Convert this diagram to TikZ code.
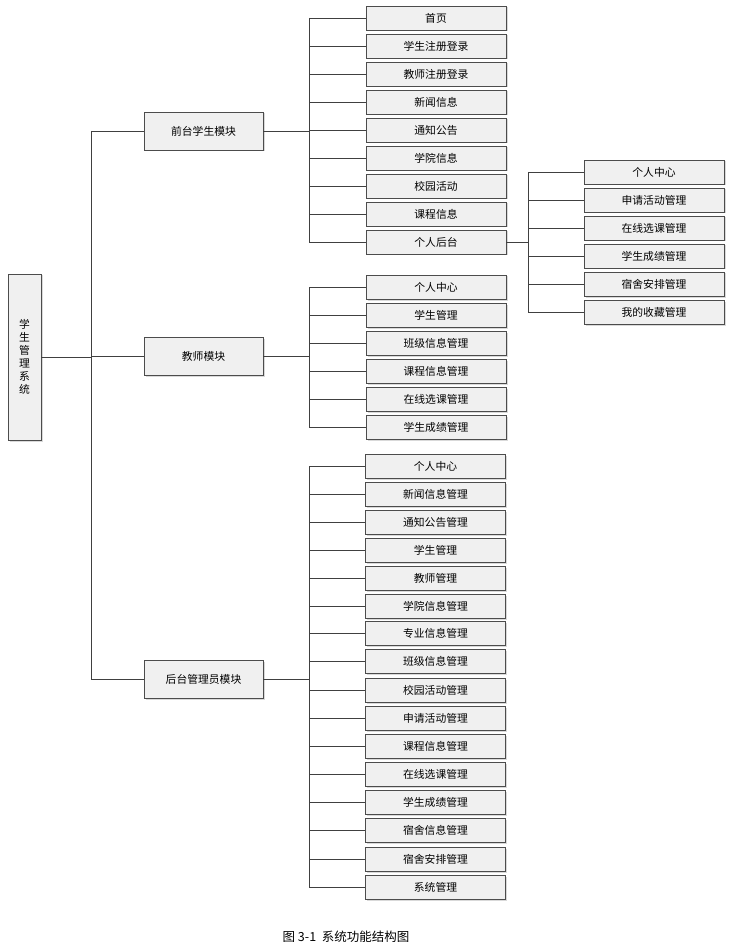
\documentclass[tikz,border=0pt]{standalone}
\usepackage{fontspec}
\setmainfont{Noto Sans CJK SC}
\usetikzlibrary{shadows}
\begin{document}
\begin{tikzpicture}[x=1pt,y=-1pt,
  bx/.style={draw=black!70,fill=black!6,minimum height=24pt,font=\fontsize{10.8}{12}\selectfont,inner sep=0pt,drop shadow={shadow xshift=1.5pt,shadow yshift=-1.5pt,opacity=.3}},
  lv/.style={bx,minimum width=119pt,minimum height=38pt},
  it/.style={bx,minimum width=140pt},
  ln/.style={draw=black!75,line width=0.6pt}]
\useasboundingbox (0,0) rectangle (730,949);
\node[bx,minimum width=33pt,minimum height=166pt,align=center,font=\fontsize{10.8}{13}\selectfont] (root) at (24.5,357) {学\\生\\管\\理\\系\\统};
\node[lv] (f) at (203.5,131) {前台学生模块};
\node[lv] (t) at (203.5,356) {教师模块};
\node[lv] (a) at (203.5,679) {后台管理员模块};
\coordinate (rb) at (91,357);
\draw[ln] (root.east) -- (rb);
\draw[ln] (91,131) -- (91,679);
\foreach \n in {f,t,a} \draw[ln] (91,0 |- \n.west) -- (\n.west);
% front
\foreach \txt [count=\i] in {首页,学生注册登录,教师注册登录,新闻信息,通知公告,学院信息,校园活动,课程信息,个人后台}{
  \node[it] (f\i) at (436,{18+28*(\i-1)}) {\txt};
  \draw[ln] (309,0 |- f\i.west) -- (f\i.west);}
\draw[ln] (309,18) -- (309,242);
\draw[ln] (f.east) -- (309,0 |- f.east);
\foreach \txt [count=\i] in {个人中心,申请活动管理,在线选课管理,学生成绩管理,宿舍安排管理,我的收藏管理}{
  \node[it] (p\i) at (654,{172+28*(\i-1)}) {\txt};
  \draw[ln] (528,0 |- p\i.west) -- (p\i.west);}
\draw[ln] (528,172) -- (528,312);
\draw[ln] (f9.east) -- (528,0 |- f9.east);
% teacher
\foreach \txt [count=\i] in {个人中心,学生管理,班级信息管理,课程信息管理,在线选课管理,学生成绩管理}{
  \node[it] (t\i) at (436,{287+28*(\i-1)}) {\txt};
  \draw[ln] (309,0 |- t\i.west) -- (t\i.west);}
\draw[ln] (309,287) -- (309,427);
\draw[ln] (t.east) -- (309,0 |- t.east);
% admin
\foreach \txt/\yy [count=\i] in {个人中心/466,新闻信息管理/494,通知公告管理/522,学生管理/550,教师管理/578,学院信息管理/606,专业信息管理/633,班级信息管理/661,校园活动管理/690,申请活动管理/718,课程信息管理/746,在线选课管理/774,学生成绩管理/802,宿舍信息管理/830,宿舍安排管理/859,系统管理/887}{
  \node[it] (a\i) at (435.5,\yy) {\txt};
  \draw[ln] (309,0 |- a\i.west) -- (a\i.west);}
\draw[ln] (309,466) -- (309,887);
\draw[ln] (a.east) -- (309,0 |- a.east);
\node[font=\fontsize{12.5}{14}\selectfont] (cap) at (346,937) {图 3-1\ \ 系统功能结构图};
\end{tikzpicture}
\end{document}
